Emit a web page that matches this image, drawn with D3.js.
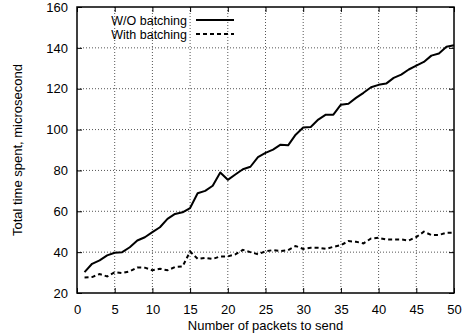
<html>
<head>
<script src="https://d3js.org/d3.v7.min.js"></script>
<style>
  body { margin: 0; background: #fff; }
  text { font-family: "Liberation Sans", Arial, sans-serif; font-size: 13px; fill: #000; }
</style>
</head>
<body>
<div id="chart"></div>
<script>
// packets sent: 1..50
var packets = [1,2,3,4,5,6,7,8,9,10,11,12,13,14,15,16,17,18,19,20,21,22,23,24,25,
               26,27,28,29,30,31,32,33,34,35,36,37,38,39,40,41,42,43,44,45,46,47,48,49,50];

var withoutBatching = [30.2,34.3,36,38.4,39.7,40,42.4,45.7,47.3,49.8,52.2,56.3,58.7,59.5,61.6,
                       68.8,70,72.5,79,75.4,78,80.6,81.8,86.5,88.6,90.2,92.6,92.3,97.5,101,
                       101.3,104.9,107.3,107.3,112.2,112.6,115.5,118,120.7,121.9,122.5,125.3,
                       126.9,129.4,131.3,133.1,136.2,137.2,140.5,141.3];

var withBatching = [27.6,27.8,29.3,28.1,30.2,29.8,30.6,32.5,32.4,31.1,31.9,31.1,32.7,33,40.3,
                    36.7,37.2,36.7,37.9,37.9,38.9,41.1,40,39,40.4,41,40.5,41,43,41.6,
                    42.1,42.1,41.6,42.6,43.4,45.4,45.1,44.3,46.7,47,46.2,46.2,46.2,45.7,47.4,
                    50,48.4,48.4,49.5,49.5];

var xTicks = [0,5,10,15,20,25,30,35,40,45,50];
var yTicks = [20,40,60,80,100,120,140,160];

var W = 470, H = 335;
var margin = {left: 77, right: 16, top: 7, bottom: 42};

var svg = d3.select("#chart").append("svg")
  .attr("width", W).attr("height", H);

var x = d3.scaleLinear().domain([0, 50]).range([margin.left, W - margin.right]);
var y = d3.scaleLinear().domain([20, 160]).range([H - margin.bottom, margin.top]);

// grid
svg.append("g").selectAll("line.gx")
  .data(xTicks.slice(1, -1)).enter().append("line")
  .attr("x1", d => x(d)).attr("x2", d => x(d))
  .attr("y1", y(20)).attr("y2", y(160))
  .attr("stroke", "#555").attr("stroke-width", 1)
  .attr("stroke-dasharray", "1,2");

svg.append("g").selectAll("line.gy")
  .data(yTicks.slice(1, -1)).enter().append("line")
  .attr("x1", x(0)).attr("x2", x(50))
  .attr("y1", d => y(d)).attr("y2", d => y(d))
  .attr("stroke", "#555").attr("stroke-width", 1)
  .attr("stroke-dasharray", "1,2");

// axes with inward ticks (gnuplot look)
var tk = 5;
svg.append("g").attr("transform", "translate(0," + y(20) + ")")
  .call(d3.axisBottom(x).tickValues(xTicks).tickSizeInner(-tk).tickSizeOuter(0).tickPadding(12))
  .call(g => g.select(".domain").remove());
svg.append("g").attr("transform", "translate(0," + y(160) + ")")
  .call(d3.axisTop(x).tickValues(xTicks).tickSizeInner(-tk).tickSizeOuter(0).tickFormat(""))
  .call(g => g.select(".domain").remove());
svg.append("g").attr("transform", "translate(" + x(0) + ",0)")
  .call(d3.axisLeft(y).tickValues(yTicks).tickSizeInner(-tk).tickSizeOuter(0).tickPadding(9))
  .call(g => g.select(".domain").remove());
svg.append("g").attr("transform", "translate(" + x(50) + ",0)")
  .call(d3.axisRight(y).tickValues(yTicks).tickSizeInner(-tk).tickSizeOuter(0).tickFormat(""))
  .call(g => g.select(".domain").remove());

svg.selectAll(".tick text")
  .style("font-family", "Liberation Sans, Arial, sans-serif")
  .style("font-size", "13px").attr("fill", "#000");
svg.selectAll(".tick line").attr("stroke", "#000");

// border
svg.append("rect")
  .attr("x", x(0)).attr("y", y(160))
  .attr("width", x(50) - x(0)).attr("height", y(20) - y(160))
  .attr("fill", "none").attr("stroke", "#000").attr("stroke-width", 1.5);

// lines
var line = d3.line().x((d, i) => x(packets[i])).y(d => y(d));

svg.append("path").datum(withoutBatching)
  .attr("d", line).attr("fill", "none")
  .attr("stroke", "#000").attr("stroke-width", 2).attr("stroke-linejoin", "round");

svg.append("path").datum(withBatching)
  .attr("d", line).attr("fill", "none")
  .attr("stroke", "#000").attr("stroke-width", 2).attr("stroke-dasharray", "4,3");

// legend
var legend = [{name: "W/O batching", dash: null}, {name: "With batching", dash: "4,3"}];
var lg = svg.append("g");
legend.forEach(function(d, i) {
  var ly = 20 + i * 14;
  lg.append("text").attr("x", 187).attr("y", ly + 4.5)
    .style("font-size", "12.5px")
    .attr("text-anchor", "end").text(d.name);
  lg.append("line").attr("x1", 196).attr("x2", 234)
    .attr("y1", ly).attr("y2", ly)
    .attr("stroke", "#000").attr("stroke-width", 2)
    .attr("stroke-dasharray", d.dash);
});

// axis titles
svg.append("text").attr("x", (x(0) + x(50)) / 2).attr("y", 330)
  .attr("text-anchor", "middle").text("Number of packets to send");
svg.append("text")
  .attr("transform", "translate(22," + ((y(20) + y(160)) / 2) + ") rotate(-90)")
  .attr("text-anchor", "middle").text("Total time spent, microsecond");
</script>
</body>
</html>
